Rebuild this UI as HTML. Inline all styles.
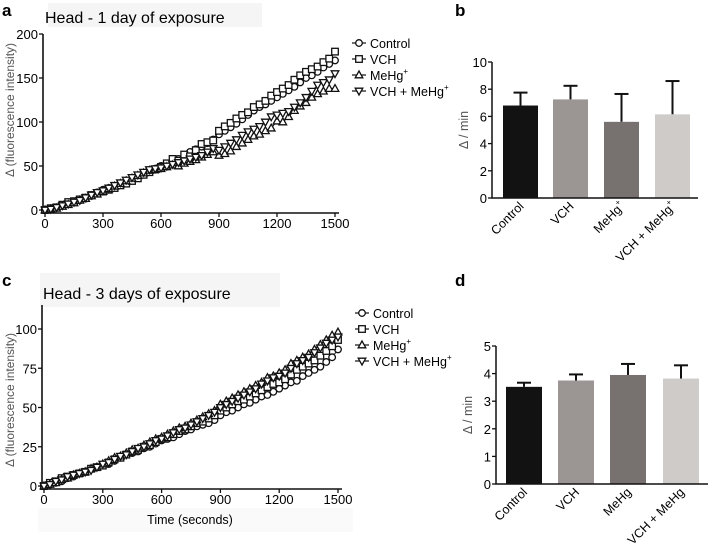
<!DOCTYPE html>
<html><head><meta charset="utf-8"><style>
body{margin:0;background:#fff}
svg{display:block;font-family:"Liberation Sans",sans-serif}
</style></head><body>
<svg id="fig" width="709" height="546" viewBox="0 0 709 546" xmlns="http://www.w3.org/2000/svg">
<rect x="48" y="3" width="214" height="24" fill="#f5f5f5"/>
<rect x="40" y="273" width="240" height="34" fill="#f5f5f5"/>
<rect x="38" y="508" width="315" height="24" fill="#fafafa"/>
<text x="2" y="16" font-size="17" font-weight="bold">a</text>
<text x="455" y="16" font-size="17" font-weight="bold">b</text>
<text x="2" y="286" font-size="17" font-weight="bold">c</text>
<text x="455" y="286" font-size="17" font-weight="bold">d</text>
<text x="45" y="23" font-size="16">Head - 1 day of exposure</text>
<text x="43" y="299" font-size="16">Head - 3 days of exposure</text>
<text x="190" y="524" font-size="12.5" text-anchor="middle">Time (seconds)</text>
<g id="gA"></g><g id="gB"></g><g id="gC"></g><g id="gD"></g>
</svg>
<script>
const NS="http://www.w3.org/2000/svg";
const timeStep=30;
const seriesNames=["Control","VCH","MeHg","VCH + MeHg"];
const aControl=[0,1,3,5,7,9,11,13,16,20,23,25,27,30,33,35,38,41,44,47,50,52,55,58,61,66,69,72,76,80,86,90,94,98,103,108,113,117,120,124,128,132,136,140,145,150,153,157,162,166,170];
const aVCH=[0,2,3,6,9,10,12,14,17,19,21,23,25,28,30,33,36,40,43,46,49,53,58,56,63,61,68,75,77,79,90,95,99,104,108,111,117,120,124,130,134,138,142,148,153,157,160,163,168,172,180];
const aMeHg=[0,1,2,4,6,8,11,13,16,18,21,24,27,30,33,36,39,42,45,46,47,49,51,50,53,55,57,60,63,66,62,64,67,72,76,80,84,86,90,93,101,100,106,113,118,122,128,132,135,138,138];
const aVCHMeHg=[0,1,3,5,7,9,11,14,17,20,22,25,28,31,34,37,40,43,46,47,48,50,52,54,56,58,60,62,66,70,68,72,76,80,85,89,92,95,100,106,108,110,112,117,122,128,135,142,145,148,155];
const cControl=[0,1,2,3,5,6,8,9,11,12,13,14,16,18,20,21,22,24,25,27,29,30,31,33,35,36,38,39,40,42,45,47,48,50,52,53,55,57,58,60,62,64,66,67,70,72,74,76,79,82,87];
const cVCH=[0,2,3,5,6,7,8,9,11,12,13,15,17,18,20,22,23,25,26,28,30,31,33,35,36,38,40,41,43,45,48,50,52,54,55,57,59,61,63,65,66,68,71,74,76,78,80,83,86,89,93];
const cMeHg=[0,1,2,4,5,7,8,9,11,12,14,16,18,19,21,23,24,26,28,30,31,33,35,37,38,40,42,44,46,48,52,54,56,58,60,62,64,66,69,70,72,74,78,80,82,84,87,90,93,96,98];
const cVCHMeHg=[0,1,3,4,6,7,8,9,10,12,14,15,17,19,20,22,24,25,27,29,30,32,34,36,37,39,41,43,45,47,50,52,54,56,58,60,62,65,67,69,70,72,75,78,80,82,85,88,91,93,95];
const xTicks=[0,300,600,900,1200,1500];
const aYTicks=[0,50,100,150,200];
const cYTicks=[0,25,50,75,100];
const barCats=["Control","VCH","MeHg","VCH + MeHg"];
const bMeans=[6.8,7.25,5.6,6.15];
const bErr=[0.95,1.0,2.05,2.45];
const bYTicks=[0,2,4,6,8,10];
const dMeans=[3.52,3.75,3.95,3.82];
const dErr=[0.15,0.22,0.4,0.48];
const dYTicks=[0,1,2,3,4,5];
const barColors=["#121212","#9b9693","#77726f","#cecbc8"];

function el(tag,attrs,parent,txt){const e=document.createElementNS(NS,tag);for(const k in attrs)e.setAttribute(k,attrs[k]);if(txt!==undefined)e.textContent=txt;parent.appendChild(e);return e;}

function marker(g,type,x,y){
  const st={fill:"#fff",stroke:"#111","stroke-width":1.3};
  let m;
  if(type===0)m=el("circle",Object.assign({cx:x,cy:y,r:3.3},st),g);
  else if(type===1)m=el("rect",Object.assign({x:x-3.3,y:y-3.3,width:6.6,height:6.6},st),g);
  else if(type===2)m=el("polygon",Object.assign({points:`${x},${y-4} ${x+3.8},${y+2.8} ${x-3.8},${y+2.8}`},st),g);
  else m=el("polygon",Object.assign({points:`${x},${y+4} ${x+3.8},${y-2.8} ${x-3.8},${y-2.8}`},st),g);
  return m;
}

function lineChart(g,o){
  const sx=v=>o.x0+(v/1500)*(o.x1-o.x0);
  const sy=v=>o.y0-(v/o.ymax)*(o.y0-o.y1);
  const ax=el("path",{d:`M${o.axX},${o.axTop} V${o.y0+3} M${o.axX},${o.y0+3} H${o.x1+4}`,stroke:"#111","stroke-width":1.6,fill:"none"},g);
  
  
  o.yTicks.forEach(t=>{
    const y=sy(t);
    el("line",{x1:o.axX-4,x2:o.axX,y1:y,y2:y,stroke:"#111","stroke-width":1.3},g);
    const tx=el("text",{x:o.axX-5,y:y+5,"font-size":13,"text-anchor":"end"},g,t);
    
    
  });
  xTicks.forEach(t=>{
    const x=sx(t);
    el("line",{x1:x,x2:x,y1:o.y0+3,y2:o.y0+7,stroke:"#111","stroke-width":1.3},g);
    const tx=el("text",{x:x,y:o.y0+18,"font-size":13,"text-anchor":"middle"},g,t);
    
    
  });
  const yl=el("text",{transform:`translate(14,${o.ylY}) rotate(-90)`,"font-size":12,"text-anchor":"middle",fill:"#555"},g,"Δ (fluorescence intensity)");
  
  
  o.series.forEach((s,si)=>{
    const sg=el("g",{},g);
    
    
    el("polyline",{points:s.map((v,i)=>sx(i*timeStep)+","+sy(v)).join(" "),fill:"none",stroke:"#111","stroke-width":1},sg);
    s.forEach((v,i)=>{const m=marker(sg,si,sx(i*timeStep),sy(v));
      
      });
  });
  const lg=el("g",{},g);
  
  
  seriesNames.forEach((n,i)=>{
    const y=o.lgY+i*16;
    const e=el("g",{},lg);
    
    
    el("line",{x1:o.lgX,x2:o.lgX+14,y1:y,y2:y,stroke:"#111","stroke-width":1.2},e);
    marker(e,i,o.lgX+7,y);
    const t=el("text",{x:o.lgX+18,y:y+5,"font-size":12.5},e,n);
    if(n.indexOf("MeHg")>=0){el("tspan",{"font-size":8,dy:-6},t,"+");}
  });
}

function barChart(g,o){
  const sy=v=>o.y0-(v/o.ymax)*(o.y0-o.y1);
  o.means.forEach((m,i)=>{
    const x=o.bx[i];
    const top=sy(m+o.err[i]);
    const e=el("line",{x1:x+o.bw/2,x2:x+o.bw/2,y1:sy(m),y2:top,stroke:"#111","stroke-width":2},g);
    
    
    el("line",{x1:x+o.bw/2-7,x2:x+o.bw/2+7,y1:top,y2:top,stroke:"#111","stroke-width":2},g);
    const r=el("rect",{x:x,y:sy(m),width:o.bw,height:o.y0-sy(m),fill:barColors[i]},g);
    
    
    const tx=el("text",{transform:`translate(${x+o.bw/2+4},${o.y0+9}) rotate(-45)`,"font-size":12.5,"text-anchor":"end"},g,barCats[i]);
    if(o.plus&&i>=2){el("tspan",{"font-size":8,dy:-6},tx,"+");}
    
    
  });
  const ax=el("path",{d:`M${o.axX},${o.y1} V${o.y0} H${o.axEnd}`,stroke:"#111","stroke-width":1.5,fill:"none"},g);
  
  
  o.ticks.forEach(t=>{
    const y=sy(t);
    el("line",{x1:o.axX-4,x2:o.axX,y1:y,y2:y,stroke:"#111","stroke-width":1.3},g);
    const tx=el("text",{x:o.axX-5,y:y+5,"font-size":13,"text-anchor":"end"},g,t);
    
    
  });
  const yl=el("text",{transform:`translate(${o.axX-24},${(o.y0+o.y1)/2}) rotate(-90)`,"font-size":12.5,"text-anchor":"middle",fill:"#555"},g,"Δ / min");
  
  
}

lineChart(document.getElementById("gA"),{x0:45,x1:335,y0:210,y1:34,ymax:200,axX:43,axTop:34,yTicks:aYTicks,series:[aControl,aVCH,aMeHg,aVCHMeHg],ylY:110,lgX:352,lgY:43});
lineChart(document.getElementById("gC"),{x0:44,x1:338,y0:486,y1:329,ymax:100,axX:42,axTop:305,yTicks:cYTicks,series:[cControl,cVCH,cMeHg,cVCHMeHg],ylY:400,lgX:355,lgY:313});
barChart(document.getElementById("gB"),{y0:198,y1:62,ymax:10,axX:492,axEnd:698,bx:[503,553,604,655],bw:35,means:bMeans,err:bErr,ticks:bYTicks,plus:true});
barChart(document.getElementById("gD"),{y0:484,y1:346,ymax:5,axX:496,axEnd:708,bx:[506,558,610,663],bw:36,means:dMeans,err:dErr,ticks:dYTicks,plus:false});
</script>
</body></html>
